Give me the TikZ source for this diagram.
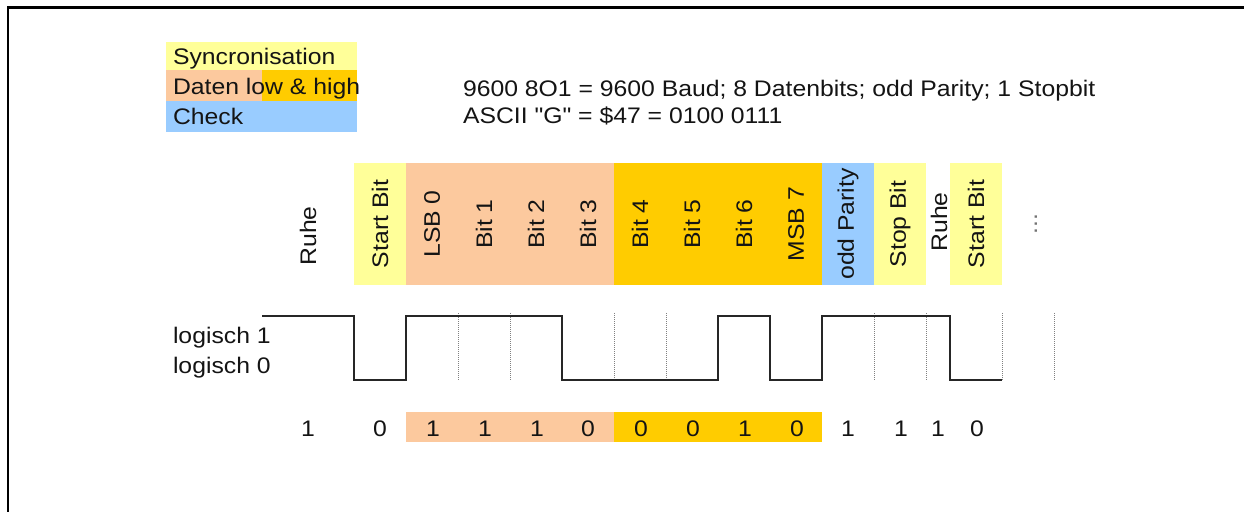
\documentclass[tikz,border=0pt]{standalone}
\usepackage{fontspec}
\setmainfont{Liberation Sans}[FakeStretch=1.1,Ligatures=TeXOff]
\definecolor{syncY}{HTML}{FFFF99}
\definecolor{datLo}{HTML}{FCC99E}
\definecolor{datHi}{HTML}{FFCC00}
\definecolor{chkB}{HTML}{99CCFF}
\definecolor{txt}{HTML}{141414}
\begin{document}
\begin{tikzpicture}[x=1pt,y=-1pt,
  every node/.style={inner sep=0pt,outer sep=0pt,text=txt,font=\fontsize{22.5}{26}\selectfont},
  vlab/.style={rotate=90,anchor=center},
  lab/.style={anchor=base west},
  bitval/.style={anchor=base},
  wave/.style={line width=2pt,draw=black!85,line join=miter},
  grid/.style={draw=black!50,line width=0.8pt,dash pattern=on 1pt off 1pt}]
\useasboundingbox (0,0) rectangle (1244,511);
% frame
\draw[line width=2.5pt] (8,512) -- (8,7.5) -- (1245,7.5);
% legend
\fill[syncY] (166,42) rectangle (357,70);
\fill[datLo] (166,70) rectangle (262,101);
\fill[datHi] (262,70) rectangle (357,101);
\fill[chkB] (166,101) rectangle (357,132);
\node[lab] (lg1) at (173,65) {Syncronisation};
\node[lab] (lg2) at (173,94) {Daten low \& high};
\node[lab] (lg3) at (173,124) {Check};
% header
\node[lab] (h1) at (463,96) {9600 8O1 = 9600 Baud; 8 Datenbits; odd Parity; 1 Stopbit};
\node[lab] (h2) at (463,123) {ASCII "G" = \$47 = 0100 0111};
% bands
\fill[syncY] (354,163) rectangle (406,285);
\fill[datLo] (406,163) rectangle (614,285);
\fill[datHi] (614,163) rectangle (822,285);
\fill[chkB] (822,163) rectangle (874,285);
\fill[syncY] (874,163) rectangle (926,285);
\fill[syncY] (950,163) rectangle (1002,285);
\node[vlab] (l0) at (308,236) {Ruhe};
\node[vlab] (l1) at (380,224) {Start Bit};
\node[vlab] (l2) at (432,224) {LSB 0};
\node[vlab] (l3) at (484,224) {Bit 1};
\node[vlab] (l4) at (536,224) {Bit 2};
\node[vlab] (l5) at (588,224) {Bit 3};
\node[vlab] (l6) at (640,224) {Bit 4};
\node[vlab] (l7) at (692,224) {Bit 5};
\node[vlab] (l8) at (744,224) {Bit 6};
\node[vlab] (l9) at (796,224) {MSB 7};
\node[vlab] (l10) at (848,224) {odd Parity};
\node[vlab] (l11) at (900,224) {Stop Bit};
\node[vlab] (l12) at (939,222) {Ruhe};
\node[vlab] (l13) at (976,224) {Start Bit};
\node[vlab,text=black!55] (l14) at (1036,224) {...};
% levels
\node[lab] (lv1) at (173,343) {logisch 1};
\node[lab] (lv0) at (173,373) {logisch 0};
% grid lines
\foreach \x in {458,510,614,666,874,926,1002,1054}
  \draw[grid] (\x,313) -- (\x,380);
% waveform
\draw[wave] (262,316) -- (354,316) -- (354,380) -- (406,380) -- (406,316)
  -- (562,316) -- (562,380) -- (718,380) -- (718,316) -- (770,316)
  -- (770,380) -- (822,380) -- (822,316) -- (950,316) -- (950,380) -- (1002,380);
% bit values
\fill[datLo] (406,412) rectangle (614,442);
\fill[datHi] (614,412) rectangle (822,442);
\foreach \x/\v [count=\i] in {308/1,380/0,433/1,485/1,537/1,588/0,641/0,693/0,745/1,797/0,848/1,901/1,938/1,977/0}
  \node[bitval] (b\i) at (\x,436) {\v};
\end{tikzpicture}
\end{document}
